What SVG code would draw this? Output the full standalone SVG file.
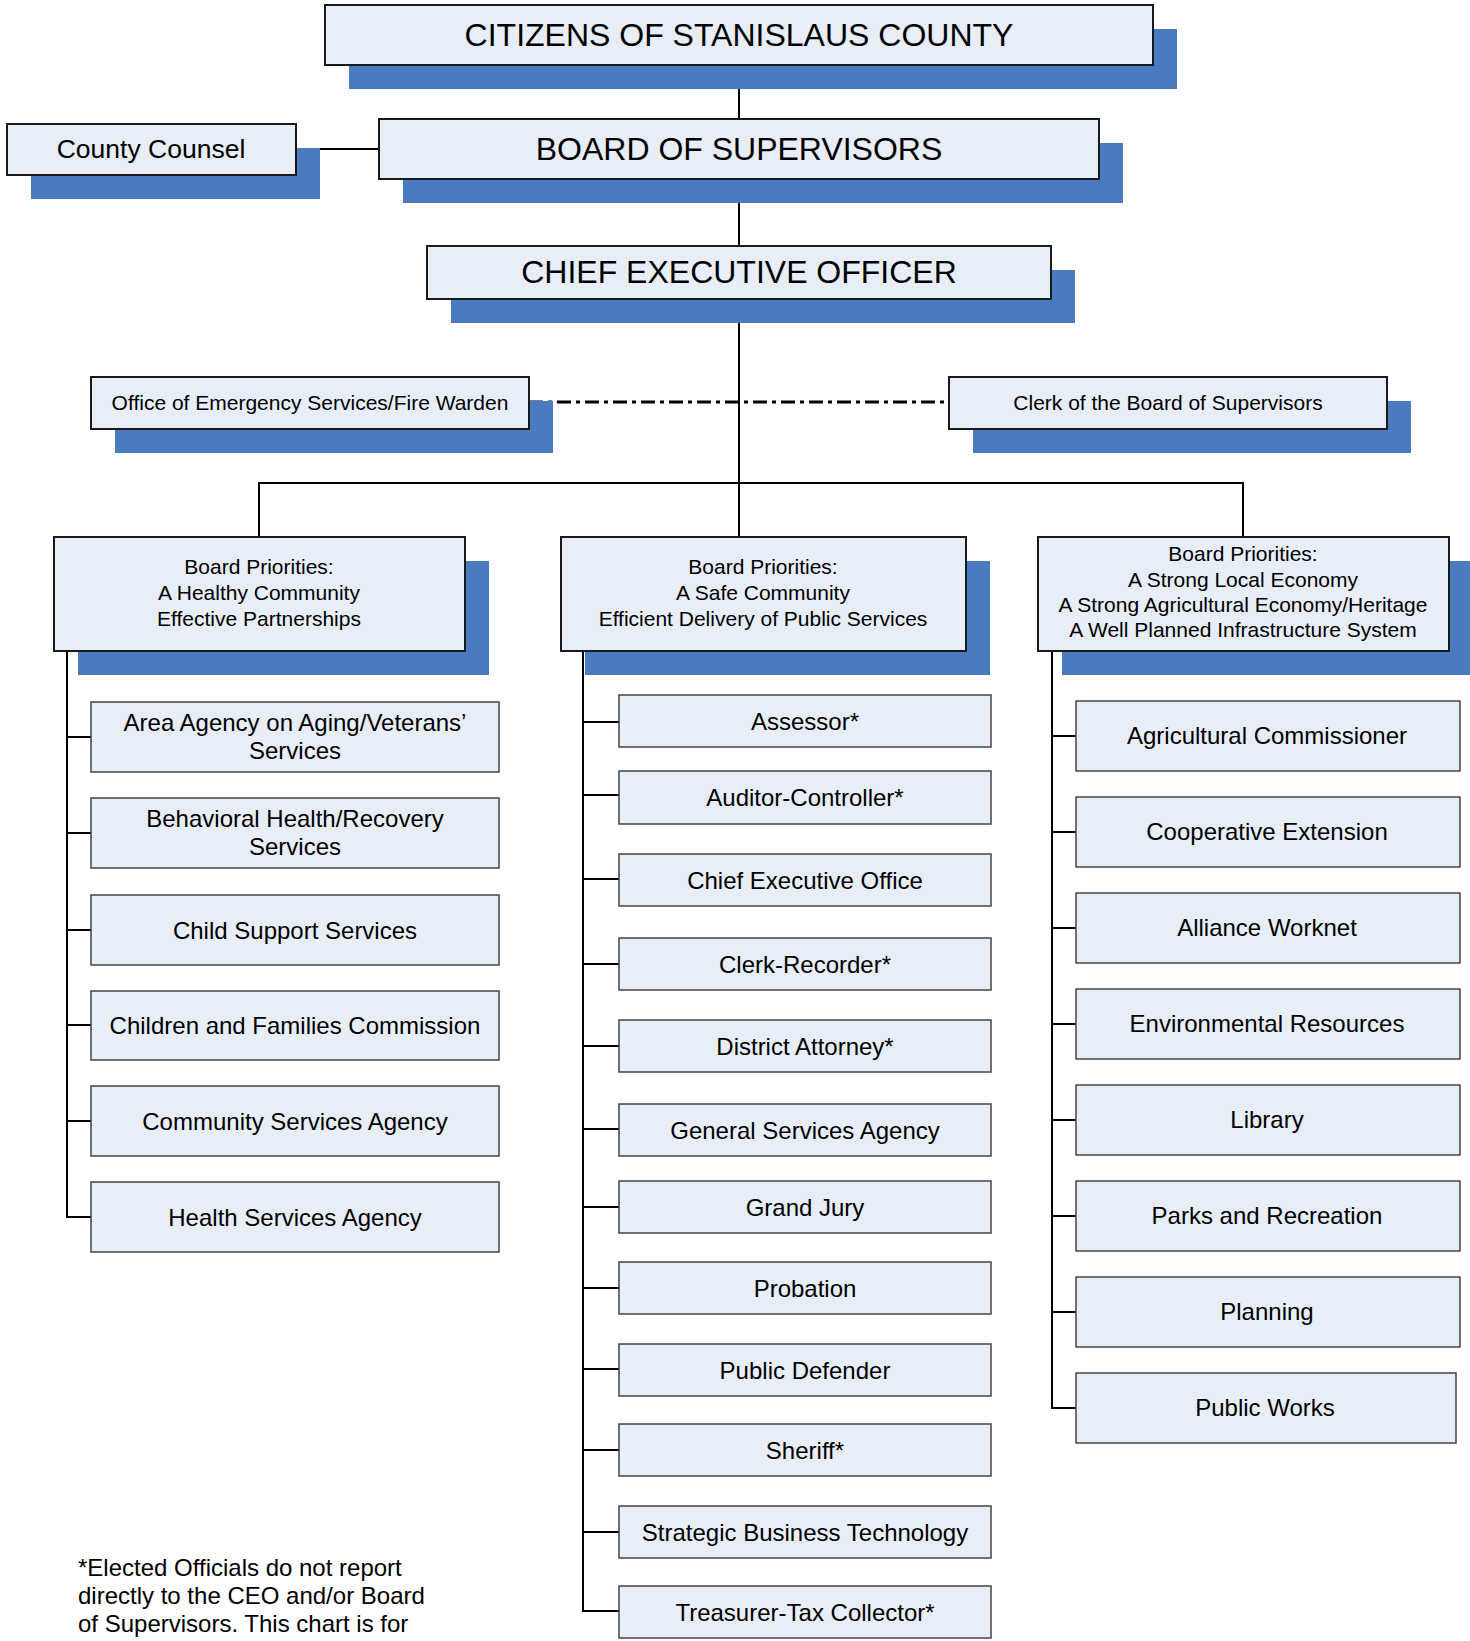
<svg xmlns="http://www.w3.org/2000/svg" width="1470" height="1641" viewBox="0 0 1470 1641">
<style>
text{font-family:"Liberation Sans",Arial,sans-serif;fill:#000;text-anchor:middle}
text.ft{text-anchor:start;font-size:24px}
.sh{fill:#4a7bc1}
.top{fill:#e8eef8;stroke:#1a1a1a;stroke-width:2}
.dep{fill:#e8eef8;stroke:#444;stroke-width:1.5}
.t32{font-size:32px}
.t21{font-size:21px}
.t24{font-size:24px}
.cn{stroke:#000;stroke-width:2;fill:none}
</style>
<rect width="1470" height="1641" fill="#fff"/>
<g id="connectors">
<line class="cn" x1="739" y1="65" x2="739" y2="119"/>
<line class="cn" x1="739" y1="179" x2="739" y2="246"/>
<line class="cn" x1="739" y1="299" x2="739" y2="537"/>
<line class="cn" x1="297" y1="149" x2="379" y2="149" stroke-width="2.5"/>
<line x1="529" y1="402" x2="949" y2="402" stroke="#000" stroke-width="3" stroke-dasharray="14 5 4 5"/>
<polyline class="cn" points="259,537 259,483 1243,483 1243,537"/>
<polyline class="cn" points="67,651 67,1217 91,1217"/>
<line class="cn" x1="67" y1="737" x2="91" y2="737"/>
<line class="cn" x1="67" y1="833" x2="91" y2="833"/>
<line class="cn" x1="67" y1="930" x2="91" y2="930"/>
<line class="cn" x1="67" y1="1025" x2="91" y2="1025"/>
<line class="cn" x1="67" y1="1121" x2="91" y2="1121"/>
<polyline class="cn" points="583,651 583,1611 619,1611"/>
<line class="cn" x1="583" y1="722" x2="619" y2="722"/>
<line class="cn" x1="583" y1="795" x2="619" y2="795"/>
<line class="cn" x1="583" y1="879" x2="619" y2="879"/>
<line class="cn" x1="583" y1="964" x2="619" y2="964"/>
<line class="cn" x1="583" y1="1046" x2="619" y2="1046"/>
<line class="cn" x1="583" y1="1129" x2="619" y2="1129"/>
<line class="cn" x1="583" y1="1207" x2="619" y2="1207"/>
<line class="cn" x1="583" y1="1288" x2="619" y2="1288"/>
<line class="cn" x1="583" y1="1369" x2="619" y2="1369"/>
<line class="cn" x1="583" y1="1450" x2="619" y2="1450"/>
<line class="cn" x1="583" y1="1532" x2="619" y2="1532"/>
<polyline class="cn" points="1052,651 1052,1408 1076,1408"/>
<line class="cn" x1="1052" y1="736" x2="1076" y2="736"/>
<line class="cn" x1="1052" y1="832" x2="1076" y2="832"/>
<line class="cn" x1="1052" y1="928" x2="1076" y2="928"/>
<line class="cn" x1="1052" y1="1024" x2="1076" y2="1024"/>
<line class="cn" x1="1052" y1="1120" x2="1076" y2="1120"/>
<line class="cn" x1="1052" y1="1216" x2="1076" y2="1216"/>
<line class="cn" x1="1052" y1="1312" x2="1076" y2="1312"/>
</g>
<g id="citizens">
<rect class="sh" x="349" y="29" width="828" height="60"/>
<rect class="top" x="325" y="5" width="828" height="60"/>
<text class="t32" x="739" y="46">CITIZENS OF STANISLAUS COUNTY</text>
</g>
<g id="board">
<rect class="sh" x="403" y="143" width="720" height="60"/>
<rect class="top" x="379" y="119" width="720" height="60"/>
<text class="t32" x="739" y="160">BOARD OF SUPERVISORS</text>
</g>
<g id="county-counsel">
<rect class="sh" x="31" y="148" width="289" height="51"/>
<rect class="top" x="7" y="124" width="289" height="51"/>
<text x="151" y="157.5" font-size="26.5">County Counsel</text>
</g>
<g id="ceo">
<rect class="sh" x="451" y="270" width="624" height="53"/>
<rect class="top" x="427" y="246" width="624" height="53"/>
<text class="t32" x="739" y="283">CHIEF EXECUTIVE OFFICER</text>
</g>
<g id="oes">
<rect class="sh" x="115" y="401" width="438" height="52"/>
<rect class="top" x="91" y="377" width="438" height="52"/>
<text class="t21" x="310" y="409.5">Office of Emergency Services/Fire Warden</text>
</g>
<g id="clerk-board">
<rect class="sh" x="973" y="401" width="438" height="52"/>
<rect class="top" x="949" y="377" width="438" height="52"/>
<text class="t21" x="1168" y="409.5">Clerk of the Board of Supervisors</text>
</g>
<g id="priorities-left">
<rect class="sh" x="78" y="561" width="411" height="114"/>
<rect class="top" x="54" y="537" width="411" height="114"/>
<text class="t21" x="259" y="573.5">Board Priorities:</text>
<text class="t21" x="259" y="599.5">A Healthy Community</text>
<text class="t21" x="259" y="625.5">Effective Partnerships</text>
</g>
<g id="priorities-middle">
<rect class="sh" x="585" y="561" width="405" height="114"/>
<rect class="top" x="561" y="537" width="405" height="114"/>
<text class="t21" x="763" y="573.5">Board Priorities:</text>
<text class="t21" x="763" y="599.5">A Safe Community</text>
<text class="t21" x="763" y="625.5">Efficient Delivery of Public Services</text>
</g>
<g id="priorities-right">
<rect class="sh" x="1062" y="561" width="411" height="114"/>
<rect class="top" x="1038" y="537" width="411" height="114"/>
<text class="t21" x="1243" y="561">Board Priorities:</text>
<text class="t21" x="1243" y="587">A Strong Local Economy</text>
<text class="t21" x="1243" y="612">A Strong Agricultural Economy/Heritage</text>
<text class="t21" x="1243" y="637">A Well Planned Infrastructure System</text>
</g>
<g id="area-agency"><rect class="dep" x="91" y="702" width="408" height="70"/><text class="t24" x="295" y="731">Area Agency on Aging/Veterans’</text><text class="t24" x="295" y="759">Services</text></g>
<g id="behavioral-health"><rect class="dep" x="91" y="798" width="408" height="70"/><text class="t24" x="295" y="827">Behavioral Health/Recovery</text><text class="t24" x="295" y="855">Services</text></g>
<g id="child-support"><rect class="dep" x="91" y="895" width="408" height="70"/><text class="t24" x="295" y="938.5">Child Support Services</text></g>
<g id="children-families"><rect class="dep" x="91" y="991" width="408" height="69"/><text class="t24" x="295" y="1034">Children and Families Commission</text></g>
<g id="community-services"><rect class="dep" x="91" y="1086" width="408" height="70"/><text class="t24" x="295" y="1129.5">Community Services Agency</text></g>
<g id="health-services"><rect class="dep" x="91" y="1182" width="408" height="70"/><text class="t24" x="295" y="1225.5">Health Services Agency</text></g>
<g id="assessor"><rect class="dep" x="619" y="695" width="372" height="52"/><text class="t24" x="805" y="729.5">Assessor*</text></g>
<g id="auditor"><rect class="dep" x="619" y="771" width="372" height="53"/><text class="t24" x="805" y="806">Auditor-Controller*</text></g>
<g id="ceo-office"><rect class="dep" x="619" y="854" width="372" height="52"/><text class="t24" x="805" y="888.5">Chief Executive Office</text></g>
<g id="clerk-recorder"><rect class="dep" x="619" y="938" width="372" height="52"/><text class="t24" x="805" y="972.5">Clerk-Recorder*</text></g>
<g id="district-attorney"><rect class="dep" x="619" y="1020" width="372" height="52"/><text class="t24" x="805" y="1054.5">District Attorney*</text></g>
<g id="general-services"><rect class="dep" x="619" y="1104" width="372" height="52"/><text class="t24" x="805" y="1138.5">General Services Agency</text></g>
<g id="grand-jury"><rect class="dep" x="619" y="1181" width="372" height="52"/><text class="t24" x="805" y="1215.5">Grand Jury</text></g>
<g id="probation"><rect class="dep" x="619" y="1262" width="372" height="52"/><text class="t24" x="805" y="1296.5">Probation</text></g>
<g id="public-defender"><rect class="dep" x="619" y="1344" width="372" height="52"/><text class="t24" x="805" y="1378.5">Public Defender</text></g>
<g id="sheriff"><rect class="dep" x="619" y="1424" width="372" height="52"/><text class="t24" x="805" y="1458.5">Sheriff*</text></g>
<g id="sbt"><rect class="dep" x="619" y="1506" width="372" height="52"/><text class="t24" x="805" y="1540.5">Strategic Business Technology</text></g>
<g id="treasurer"><rect class="dep" x="619" y="1586" width="372" height="52"/><text class="t24" x="805" y="1620.5">Treasurer-Tax Collector*</text></g>
<g id="agricultural"><rect class="dep" x="1076" y="701" width="384" height="70"/><text class="t24" x="1267" y="743.5">Agricultural Commissioner</text></g>
<g id="cooperative"><rect class="dep" x="1076" y="797" width="384" height="70"/><text class="t24" x="1267" y="839.5">Cooperative Extension</text></g>
<g id="alliance"><rect class="dep" x="1076" y="893" width="384" height="70"/><text class="t24" x="1267" y="935.5">Alliance Worknet</text></g>
<g id="environmental"><rect class="dep" x="1076" y="989" width="384" height="70"/><text class="t24" x="1267" y="1031.5">Environmental Resources</text></g>
<g id="library"><rect class="dep" x="1076" y="1085" width="384" height="70"/><text class="t24" x="1267" y="1127.5">Library</text></g>
<g id="parks"><rect class="dep" x="1076" y="1181" width="384" height="70"/><text class="t24" x="1267" y="1223.5">Parks and Recreation</text></g>
<g id="planning"><rect class="dep" x="1076" y="1277" width="384" height="70"/><text class="t24" x="1267" y="1319.5">Planning</text></g>
<g id="public-works"><rect class="dep" x="1076" y="1373" width="380" height="70"/><text class="t24" x="1265" y="1415.5">Public Works</text></g>
<g id="footnote">
<text class="ft" x="78" y="1576">*Elected Officials do not report</text>
<text class="ft" x="78" y="1604">directly to the CEO and/or Board</text>
<text class="ft" x="78" y="1632">of Supervisors. This chart is for</text>
</g>
</svg>
